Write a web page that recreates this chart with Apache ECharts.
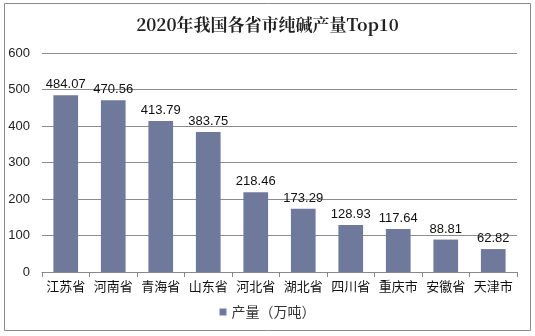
<!DOCTYPE html>
<html><head><meta charset="utf-8">
<script src="https://cdn.jsdelivr.net/npm/echarts@6/dist/echarts.min.js"></script>
<style>html,body{margin:0;padding:0;background:#fff}#c{width:535px;height:336px}</style>
</head><body><div id="c"></div>
<script>
const categories = ['江苏省','河南省','青海省','山东省','河北省','湖北省','四川省','重庆市','安徽省','天津市'];
const production = [484.07,470.56,413.79,383.75,218.46,173.29,128.93,117.64,88.81,62.82];
const seriesName = '产量（万吨）';
const titleText = '2020年我国各省市纯碱产量Top10';

const chart = echarts.init(document.getElementById('c'), null, {renderer:'canvas'});
chart.setOption({
  animation:false,
  backgroundColor:'#fff',
  title:{text:titleText,left:'center',top:11,
    textStyle:{fontFamily:'"Noto Serif CJK SC","DejaVu Serif",serif',fontSize:17,fontWeight:'bold',color:'#222'}},
  graphic:[{type:'rect',shape:{x:4.5,y:3.5,width:526,height:327},style:{fill:'none',stroke:'#8a8a8a',lineWidth:1},silent:true}],
  legend:{bottom:12,left:'center',itemWidth:7,itemHeight:7,icon:'rect',itemGap:4,
    textStyle:{fontSize:14,color:'#333',fontFamily:'"Noto Sans CJK SC",sans-serif'}},
  grid:{left:42,right:18,top:53,bottom:64},
  xAxis:{type:'category',data:categories,
    axisLine:{lineStyle:{color:'#888'}},axisTick:{show:true,alignWithLabel:false,lineStyle:{color:'#888'}},
    axisLabel:{fontSize:13,color:'#111',margin:8,interval:0,fontFamily:'"Noto Sans CJK SC",sans-serif'}},
  yAxis:{type:'value',min:0,max:600,interval:100,
    axisLine:{show:false},axisTick:{show:false},
    axisLabel:{fontSize:13,color:'#222',margin:12,fontFamily:'"Liberation Sans",Arial,sans-serif'},
    splitLine:{lineStyle:{color:'#8c8c8c',width:1}}},
  series:[{name:seriesName,type:'bar',data:production,barWidth:'52%',
    itemStyle:{color:'#6F799C'},
    label:{show:true,position:'top',distance:4,fontSize:13,color:'#111',fontFamily:'"Liberation Sans",Arial,sans-serif',
      formatter:p=>p.value.toFixed(2)}}]
});
</script></body></html>
